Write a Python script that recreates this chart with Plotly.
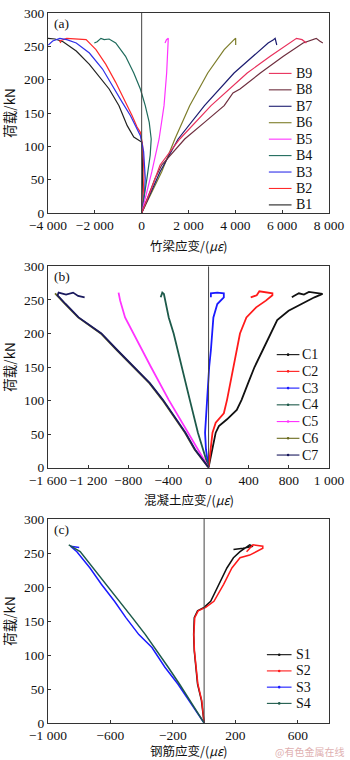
import plotly.graph_objects as go

# ---------------- data ----------------
# Panel (a): bamboo beam strain (x) vs load (y)
B_names = ["B1", "B2", "B3", "B4", "B5", "B6", "B7", "B8", "B9"]
B1_x = [0, 20, 42, 14, -126, -337, -618, -969, -1390, -1811, -2232, -2794, -3356, -3700, -4000]
B1_y = [0, 30, 62, 106, 109, 114, 131, 161, 186, 205, 223, 243, 257, 261, 262]
B2_x = [0, 60, 100, 42, -56, -197, -407, -688, -1109, -1530, -1952, -2373, -2800, -3200, -3500, -3450]
B2_y = [0, 20, 60, 101, 121, 129, 146, 166, 196, 223, 245, 260, 261, 262, 258, 255]
B3_x = [0, 120, 154, 84, -56, -267, -477, -828, -1250, -1671, -2232, -2794, -3200, -3496, -3800, -3987]
B3_y = [0, 30, 52, 92, 116, 131, 146, 166, 191, 216, 240, 255, 260, 262, 258, 252]
B4_x = [0, 84, 225, 365, 407, 323, 154, -56, -337, -688, -1109, -1390, -1600, -1741, -1900, -2022]
B4_y = [0, 22, 52, 87, 111, 136, 161, 186, 210, 235, 255, 261, 260, 262, 257, 255]
B5_x = [0, 150, 435, 744, 955, 1067, 1137, 1137, 1060, 997]
B5_y = [0, 20, 62, 111, 161, 210, 250, 262, 260, 255]
B6_x = [0, 400, 856, 1418, 2050, 2822, 3524, 3945, 4015, 4015]
B6_y = [0, 30, 62, 111, 161, 210, 245, 260, 262, 252]
B7_x = [0, 380, 786, 1558, 2682, 3945, 4928, 5400, 5630, 5700, 5770]
B7_y = [0, 30, 62, 111, 161, 210, 240, 255, 260, 262, 252]
B8_x = [0, 576, 856, 1839, 2682, 3524, 3900, 4086, 4200, 5068, 6051, 6894, 7315, 7455, 7600, 7736]
B8_y = [0, 52, 72, 111, 136, 161, 180, 183, 186, 210, 235, 255, 261, 262, 258, 255]
B9_x = [0, 400, 786, 1629, 2963, 4507, 5490, 6332, 6613, 6850, 7034]
B9_y = [0, 35, 72, 111, 161, 210, 235, 255, 262, 260, 255]

# Panel (b): concrete strain vs load
C_names = ["C1", "C2", "C3", "C4", "C5", "C6", "C7"]
C1_x = [0, 39, 71, 103, 184, 281, 329, 394, 458, 539, 619, 684, 797, 926, 1055, 1136, 1060, 1000, 950, 900, 850, 830]
C1_y = [0, 27, 52, 62, 72, 86, 101, 126, 150, 175, 200, 220, 234, 244, 254, 259, 261, 262, 258, 260, 256, 254]
C2_x = [0, 23, 39, 71, 152, 184, 216, 248, 281, 313, 377, 474, 571, 636, 636, 560, 506, 480, 420]
C2_y = [0, 27, 52, 67, 81, 101, 126, 150, 175, 200, 224, 239, 249, 257, 260, 262, 263, 257, 254]
C3_x = [0, -26, -35, -26, -16, -10, 6, 23, 32, 48, 87, 152, 152, 87, 23, 23]
C3_y = [0, 27, 52, 76, 101, 126, 150, 175, 200, 224, 244, 254, 260, 261, 260, 254]
C4_x = [0, -58, -106, -187, -268, -348, -397, -429, -445, -461, -477]
C4_y = [0, 27, 52, 101, 150, 200, 224, 249, 259, 261, 254]
C5_x = [0, -106, -203, -397, -574, -752, -832, -881, -897]
C5_y = [0, 27, 52, 101, 150, 200, 224, 249, 261]
C6_x = [0, -139, -235, -461, -590, -752, -913, -1074, -1300, -1429, -1510, -1530]
C6_y = [0, 27, 52, 101, 126, 150, 175, 200, 224, 244, 257, 260]
C7_x = [0, -135, -230, -455, -585, -748, -908, -1068, -1295, -1425, -1505, -1494, -1420, -1350, -1300, -1235]
C7_y = [0, 27, 52, 101, 126, 150, 175, 200, 224, 244, 257, 261, 258, 261, 256, 254]

# Panel (c): steel strain vs load
S_names = ["S1", "S2", "S3", "S4"]
S1_x = [0, -17, -42, -52, -63, -67, -63, -42, 0, 42, 94, 146, 188, 230, 292, 313, 250, 188]
S1_y = [0, 33, 57, 82, 106, 130, 155, 165, 170, 179, 204, 228, 243, 252, 262, 260, 257, 255]
S2_x = [0, -15, -40, -50, -62, -66, -60, -38, 10, 63, 125, 178, 230, 292, 376, 376, 313, 272]
S2_y = [0, 33, 57, 82, 106, 130, 155, 165, 170, 179, 204, 228, 243, 247, 257, 260, 262, 252]
S3_x = [0, -94, -167, -251, -334, -418, -501, -574, -658, -731, -815, -856, -800]
S3_y = [0, 33, 57, 82, 111, 130, 155, 179, 204, 228, 252, 260, 258]
S4_x = [0, -88, -157, -230, -303, -376, -460, -543, -627, -710, -794, -867]
S4_y = [0, 33, 57, 82, 106, 130, 155, 179, 204, 228, 252, 262]

B_colors = ["#222222", "#ff2a2a", "#3030e8", "#1f6b5c", "#ff33ff", "#7d7d2a", "#1c1c70", "#6e2e3e", "#e8305c"]
C_colors = ["#111111", "#ff1a1a", "#1a1aff", "#1d5a4a", "#ff33ff", "#6b6b1e", "#1a1a5e"]
S_colors = ["#111111", "#ff1a1a", "#1a1aff", "#1d5a4a"]

y_ticks = [0, 50, 100, 150, 200, 250, 300]
a_ticks = [-4000, -2000, 0, 2000, 4000, 6000, 8000]
a_text = ["−4 000", "−2 000", "0", "2 000", "4 000", "6 000", "8 000"]
b_ticks = [-1600, -1200, -800, -400, 0, 400, 800, 1200]
b_text = ["−1 600", "−1 200", "−800", "−400", "0", "400", "800", "1 000"]
c_ticks = [-1000, -600, -200, 200, 600]
c_text = ["−1 000", "−600", "−200", "200", "600"]

B_data = [(B1_x, B1_y), (B2_x, B2_y), (B3_x, B3_y), (B4_x, B4_y), (B5_x, B5_y),
          (B6_x, B6_y), (B7_x, B7_y), (B8_x, B8_y), (B9_x, B9_y)]
C_data = [(C1_x, C1_y), (C2_x, C2_y), (C3_x, C3_y), (C4_x, C4_y), (C5_x, C5_y),
          (C6_x, C6_y), (C7_x, C7_y)]
S_data = [(S1_x, S1_y), (S2_x, S2_y), (S3_x, S3_y), (S4_x, S4_y)]

FONT = "Times New Roman, Liberation Serif, DejaVu Serif, serif"
CJK = "Noto Sans CJK SC"

W, H = 350, 760
ML, MR, MT, MB = 48, 17, 6, 37
PW, PH = W - ML - MR, H - MT - MB


def px2paper(px, py):
    return (px - ML) / PW, (H - MB - py) / PH


fig = go.Figure()

for i in range(9):
    x, y = B_data[i]
    fig.add_trace(go.Scatter(x=x, y=y, mode="lines", name=B_names[i],
                             line=dict(color=B_colors[i], width=1.2), xaxis="x", yaxis="y"))
for i in range(7):
    x, y = C_data[i]
    fig.add_trace(go.Scatter(x=x, y=y, mode="lines", name=C_names[i],
                             line=dict(color=C_colors[i], width=1.8), xaxis="x2", yaxis="y2"))
for i in range(4):
    x, y = S_data[i]
    fig.add_trace(go.Scatter(x=x, y=y, mode="lines", name=S_names[i],
                             line=dict(color=S_colors[i], width=1.5), xaxis="x3", yaxis="y3"))

axis_common = dict(showgrid=False, zeroline=False, showline=True, linecolor="#333",
                   linewidth=1, mirror=True, ticks="inside", ticklen=3, tickcolor="#333",
                   tickangle=0, tickfont=dict(family=FONT, size=13.5, color="#111"))

doms = [(0.7183, 1.0), (0.3598, 0.643), (0.0, 0.2873)]

fig.update_layout(
    width=W, height=H,
    margin=dict(l=ML, r=MR, t=MT, b=MB),
    paper_bgcolor="white", plot_bgcolor="white",
    font=dict(family=FONT, size=13, color="#111"),
    showlegend=False,
    xaxis=dict(range=[-4000, 8000], tickvals=a_ticks, ticktext=a_text, anchor="y", **axis_common),
    yaxis=dict(range=[0, 300], tickvals=y_ticks, domain=doms[0], anchor="x", **axis_common),
    xaxis2=dict(range=[-1600, 1200], tickvals=b_ticks, ticktext=b_text, anchor="y2", **axis_common),
    yaxis2=dict(range=[0, 300], tickvals=y_ticks, domain=doms[1], anchor="x2", **axis_common),
    xaxis3=dict(range=[-1000, 800], tickvals=c_ticks, ticktext=c_text, anchor="y3", **axis_common),
    yaxis3=dict(range=[0, 300], tickvals=y_ticks, domain=doms[2], anchor="x3", **axis_common),
)

# zero reference lines
for xa, ya in [("x", "y"), ("x2", "y2"), ("x3", "y3")]:
    fig.add_shape(type="line", xref=xa, yref=ya + " domain", x0=0, x1=0, y0=0, y1=1,
                  line=dict(color="#444", width=1))


# custom legends (compact spacing as in the reference)
def add_legend(names, colors, x0, x1, xt, y0, dy, dot):
    for k, (nm, col) in enumerate(zip(names, colors)):
        py = y0 + dy * k
        a0, b0 = px2paper(x0, py)
        a1, _ = px2paper(x1, py)
        fig.add_shape(type="line", xref="paper", yref="paper", x0=a0, x1=a1, y0=b0, y1=b0,
                      line=dict(color=col, width=1.1))
        if dot:
            cx, cy = px2paper((x0 + x1) / 2, py)
            r = 1.3
            fig.add_shape(type="circle", xref="paper", yref="paper",
                          x0=cx - r / PW, x1=cx + r / PW, y0=cy - r / PH, y1=cy + r / PH,
                          fillcolor=col, line=dict(color=col, width=0))
        tx, ty = px2paper(xt, py)
        fig.add_annotation(text=nm, xref="paper", yref="paper", x=tx, y=ty, xanchor="left",
                           yanchor="middle", showarrow=False,
                           font=dict(family=FONT, size=14, color="#111"))


add_legend(B_names[::-1], B_colors[::-1], 272, 295, 297, 67, 16.6, False)
add_legend(C_names, C_colors, 280, 303, 304, 351, 16.9, True)
add_legend(S_names, S_colors, 270, 295, 297, 654, 16.4, True)

# panel letters
for lab, xa, ya in [("(a)", "x", "y"), ("(b)", "x2", "y2"), ("(c)", "x3", "y3")]:
    fig.add_annotation(text=lab, xref=xa + " domain", yref=ya + " domain", x=0.015, y=0.995,
                       xanchor="left", yanchor="top", showarrow=False,
                       font=dict(family=FONT, size=13.5, color="#111"))

# axis titles
xt = [("竹梁应变/(<i>με</i>)", px2paper(0, 241)[1]),
      ("混凝土应变/(<i>με</i>)", px2paper(0, 497)[1]),
      ("钢筋应变/(<i>με</i>)", px2paper(0, 751)[1])]
for t, yy in xt:
    fig.add_annotation(text=t, xref="paper", yref="paper", x=0.5, y=yy, xanchor="center",
                       yanchor="middle", showarrow=False, font=dict(family=CJK, size=12.5, color="#111"))
for d in doms:
    fig.add_annotation(text="荷载/kN", xref="paper", yref="paper", x=-0.14, y=(d[0] + d[1]) / 2,
                       xanchor="center", yanchor="middle", textangle=-90, showarrow=False,
                       font=dict(family=CJK, size=13.5, color="#111"))

fig.add_annotation(text="@有色金属在线", xref="paper", yref="paper", x=1.06, y=-0.04,
                   xanchor="right", yanchor="middle", showarrow=False,
                   font=dict(family=CJK, size=10, color="#e0b0b0"))

fig.write_html("out.html")
